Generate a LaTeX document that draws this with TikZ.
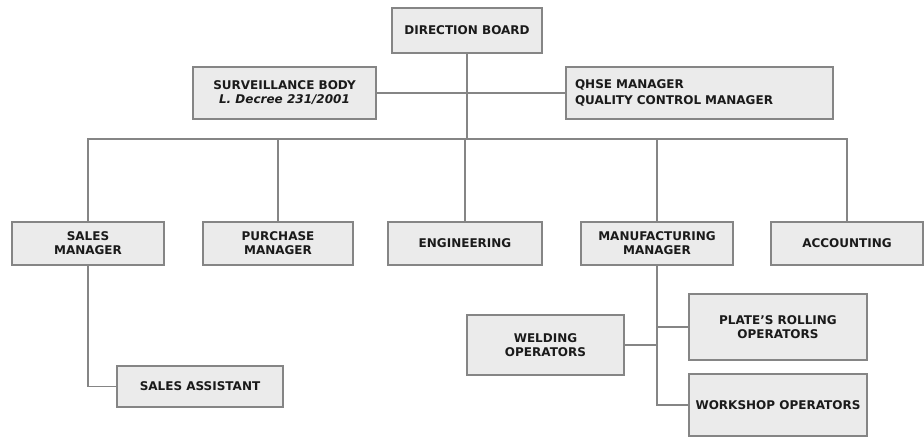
\documentclass[tikz,border=0pt]{standalone}
\usepackage{fontspec}
\setmainfont{DejaVu Sans}
\usepackage{xcolor}
\definecolor{boxfill}{HTML}{EBEBEB}
\definecolor{boxline}{HTML}{858585}
\definecolor{boxtext}{HTML}{1A1A1A}

\begin{document}
\begin{tikzpicture}[x=.75pt, y=-.75pt,
    orgbox/.style={draw=boxline, fill=boxfill, line width=1.4pt,
        text=boxtext, font=\fontsize{9}{10.5}\selectfont\bfseries,
        align=center, inner sep=0pt},
    link/.style={draw=boxline, line width=1.4pt}]

    \useasboundingbox (0,0) rectangle (924,437);

    % top
    \node[orgbox, minimum width=112.5pt, minimum height=33.75pt] (board) at (467,30.5) {DIRECTION BOARD};
    \node[orgbox, minimum width=137.25pt, minimum height=39pt] (surv) at (284.5,93)
        {SURVEILLANCE BODY\\\itshape L. Decree 231/2001};
    \node[orgbox, text width=186.75pt, inner xsep=6.75pt, minimum height=39pt, align=left,
        font=\fontsize{9}{12}\selectfont\bfseries] (qhse) at (699.5,93)
        {QHSE MANAGER\\QUALITY CONTROL MANAGER};

    % managers
    \node[orgbox, minimum width=114pt, minimum height=32.25pt] (sales) at (88,243.5) {SALES\\MANAGER};
    \node[orgbox, minimum width=112.5pt, minimum height=32.25pt] (purch) at (278,243.5) {PURCHASE\\MANAGER};
    \node[orgbox, minimum width=115.5pt, minimum height=32.25pt] (eng) at (465,243.5) {ENGINEERING};
    \node[orgbox, minimum width=114pt, minimum height=32.25pt] (manuf) at (657,243.5) {MANUFACTURING\\MANAGER};
    \node[orgbox, minimum width=114pt, minimum height=32.25pt] (acct) at (847,243.5) {ACCOUNTING};

    % operators
    \node[orgbox, minimum width=124.5pt, minimum height=30.75pt] (salesast) at (200,386.5) {SALES ASSISTANT};
    \node[orgbox, minimum width=117.75pt, minimum height=45pt] (weld) at (545.5,345) {WELDING\\OPERATORS};
    \node[orgbox, minimum width=133.5pt, minimum height=49.5pt] (plate) at (778,327) {PLATE’S ROLLING\\OPERATORS};
    \node[orgbox, minimum width=133.5pt, minimum height=46.5pt] (workshop) at (778,405) {WORKSHOP OPERATORS};

    %relations
    \coordinate (bus) at (467,139);
    \draw[link] (board) -- (bus);
    \draw[link] (surv) -- (qhse);
    \draw[link] (bus) -| (sales);
    \draw[link] (bus) -| (purch);
    \draw[link] (bus) -| (eng);
    \draw[link] (bus) -| (manuf);
    \draw[link] (bus) -| (acct);
    \draw[link] (sales) |- (salesast);
    \draw[link] (manuf) |- (plate);
    \draw[link] (manuf) |- (workshop);
    \draw[link] (weld.east) -- (weld.east -| manuf.south);

\end{tikzpicture}
\end{document}
